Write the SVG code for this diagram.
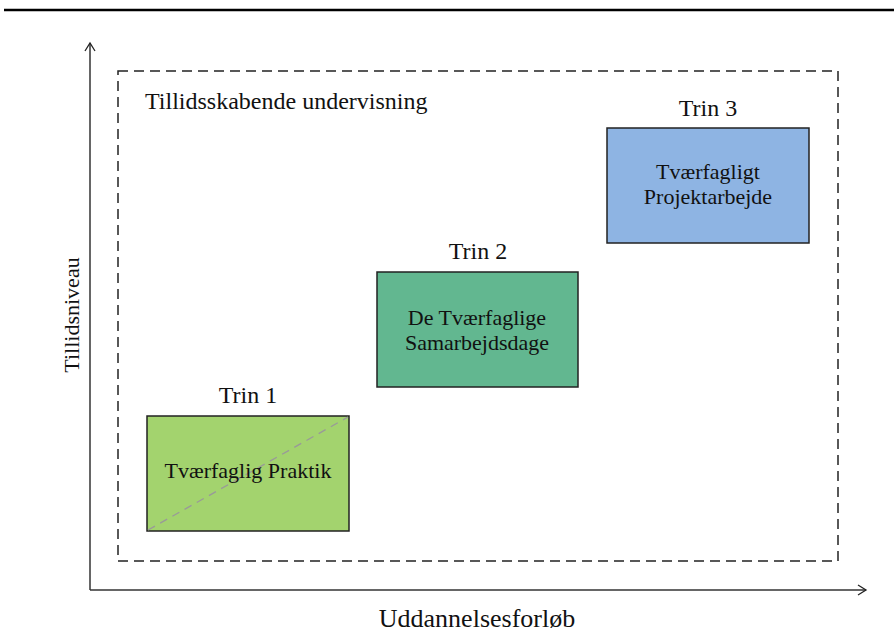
<svg xmlns="http://www.w3.org/2000/svg" width="894" height="632" viewBox="0 0 894 632">
  <defs>
    <marker id="arrow" viewBox="0 0 12 12" refX="10" refY="6" markerWidth="12" markerHeight="12" markerUnits="userSpaceOnUse" orient="auto">
      <path d="M2,1 L10,6 L2,11" fill="none" stroke="#222" stroke-width="1.3"/>
    </marker>
  </defs>
  <style>
    text { font-family: "Liberation Serif", "Times New Roman", serif; font-size: 22px; fill: #111; }
    .mid { text-anchor: middle; }
    .step { font-size: 24px; }
    .box { stroke: #222; stroke-width: 1.5; }
    .axis { stroke: #333; stroke-width: 1.5; fill: none; }
  </style>
  <rect width="894" height="632" fill="#fff"/>

  <!-- header rule -->
  <line x1="4" y1="10" x2="894" y2="10" stroke="#000" stroke-width="2.5"/>

  <!-- axes -->
  <g id="connectors">
    <line class="axis" x1="90" y1="590" x2="90" y2="43" marker-end="url(#arrow)"/>
    <line class="axis" x1="90" y1="590" x2="866" y2="590" marker-end="url(#arrow)"/>
  </g>
  <text x="79" y="315" class="mid" transform="rotate(-90 79 315)">Tillidsniveau</text>
  <text x="477" y="627" class="mid" style="font-size:26px">Uddannelsesforløb</text>

  <!-- frame -->
  <g id="frame">
    <rect x="118" y="71" width="720" height="490" fill="none" stroke="#222" stroke-width="1.5" stroke-dasharray="10,6"/>
    <text x="145" y="109" class="step">Tillidsskabende undervisning</text>
  </g>

  <g id="trin1">
    <text x="248" y="403" class="mid step">Trin 1</text>
    <rect class="box" x="147" y="416" width="202" height="115" fill="#a3d36e"/>
    <line x1="148" y1="530" x2="348" y2="417" stroke="#999" stroke-width="1.3" stroke-dasharray="8,6"/>
    <text x="248" y="478" class="mid">Tværfaglig Praktik</text>
  </g>

  <g id="trin2">
    <text x="478" y="259" class="mid step">Trin 2</text>
    <rect class="box" x="377" y="272" width="201" height="115" fill="#62b790"/>
    <text x="477" y="325" class="mid">De Tværfaglige</text>
    <text x="477" y="350" class="mid">Samarbejdsdage</text>
  </g>

  <g id="trin3">
    <text x="708" y="116" class="mid step">Trin 3</text>
    <rect class="box" x="607" y="128" width="202" height="115" fill="#8eb4e3"/>
    <text x="708" y="179" class="mid">Tværfagligt</text>
    <text x="708" y="204" class="mid">Projektarbejde</text>
  </g>
</svg>
